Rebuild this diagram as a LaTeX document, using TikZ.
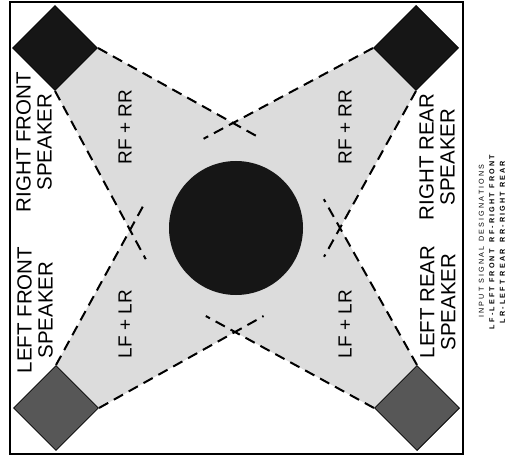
\documentclass[tikz,border=0pt]{standalone}
\usepackage{fontspec}
\setmainfont{Liberation Sans}
\newfontfamily\legendfont[LetterSpace=30]{Liberation Sans}
\usetikzlibrary{calc,backgrounds}
\definecolor{beamgray}{HTML}{DCDCDC}
\definecolor{spkgray}{HTML}{575757}
\definecolor{nearblack}{HTML}{161616}

\begin{document}
\begin{tikzpicture}[
    x=1pt, y=-1pt,
    spk/.style={draw=black, thick, rotate=45, minimum size=60pt, inner sep=0pt},
    front/.style={spk, fill=nearblack},
    rear/.style={spk, fill=spkgray},
    disc/.style={circle, fill=nearblack, minimum size=134pt, inner sep=0pt},
    beam/.style={line width=2pt, dash pattern=on 10.5pt off 6.5pt},
    sidelabel/.style={rotate=90, align=center, inner sep=0pt, font=\fontsize{20.5}{21}\selectfont},
    mix/.style={rotate=90, inner sep=0pt, font=\fontsize{19}{19}\selectfont},
    legend/.style={rotate=90, align=center, inner sep=0pt, font=\legendfont\fontsize{7.2}{10.5}\selectfont}
]
\useasboundingbox (0,0) rectangle (510,462);

% frame
\draw[line width=2pt] (10,2) rectangle (463,454);

% speakers and listening area
\node[front] (tl) at (55,48) {};
\node[front] (tr) at (416,48) {};
\node[rear] (bl) at (56,408) {};
\node[rear] (br) at (417,408) {};
\node[disc] (centre) at (236,228) {};

% where the beam edges cross
\coordinate (xtop) at (233,123);
\coordinate (xleft) at (130,230);
\coordinate (xright) at (340,228);
\coordinate (xbot) at (235,332);

\begin{scope}[on background layer]
\fill[beamgray] (tl.south east) -- (xtop) -- (tr.north west) -- (tr.south west)
    -- (xright) -- (br.north east) -- (br.north west) -- (xbot)
    -- (bl.south east) -- (bl.north east) -- (xleft) -- (tl.south west) -- cycle;
\end{scope}

\draw[beam] (tl.south east) -- ($(tl.south east)!1.21!(xtop)$);
\draw[beam] (tl.south west) -- ($(tl.south west)!1.21!(xleft)$);
\draw[beam] (tr.north west) -- ($(tr.north west)!1.21!(xtop)$);
\draw[beam] (tr.south west) -- ($(tr.south west)!1.21!(xright)$);
\draw[beam] (bl.north east) -- ($(bl.north east)!1.21!(xleft)$);
\draw[beam] (bl.south east) -- ($(bl.south east)!1.21!(xbot)$);
\draw[beam] (br.north east) -- ($(br.north east)!1.21!(xright)$);
\draw[beam] (br.north west) -- ($(br.north west)!1.21!(xbot)$);

% labels
\node[sidelabel] (rflabel) at (34,142) {RIGHT FRONT\\SPEAKER};
\node[sidelabel] (lflabel) at (35,310) {LEFT FRONT\\SPEAKER};
\node[sidelabel] (rrlabel) at (437,157) {RIGHT REAR\\SPEAKER};
\node[sidelabel] (lrlabel) at (438,302) {LEFT REAR\\SPEAKER};

\node[mix] (mixtl) at (125,127) {RF + RR};
\node[mix] (mixtr) at (345,127) {RF + RR};
\node[mix] (mixbl) at (125,324) {LF + LR};
\node[mix] (mixbr) at (345,324) {LF + LR};

\node[legend] (key) at (492,241) {INPUT SIGNAL DESIGNATIONS\\
    \textbf{LF-LEFT FRONT\quad RF-RIGHT FRONT}\\
    \textbf{LR-LEFT REAR\quad RR-RIGHT REAR}};
\end{tikzpicture}
\end{document}
